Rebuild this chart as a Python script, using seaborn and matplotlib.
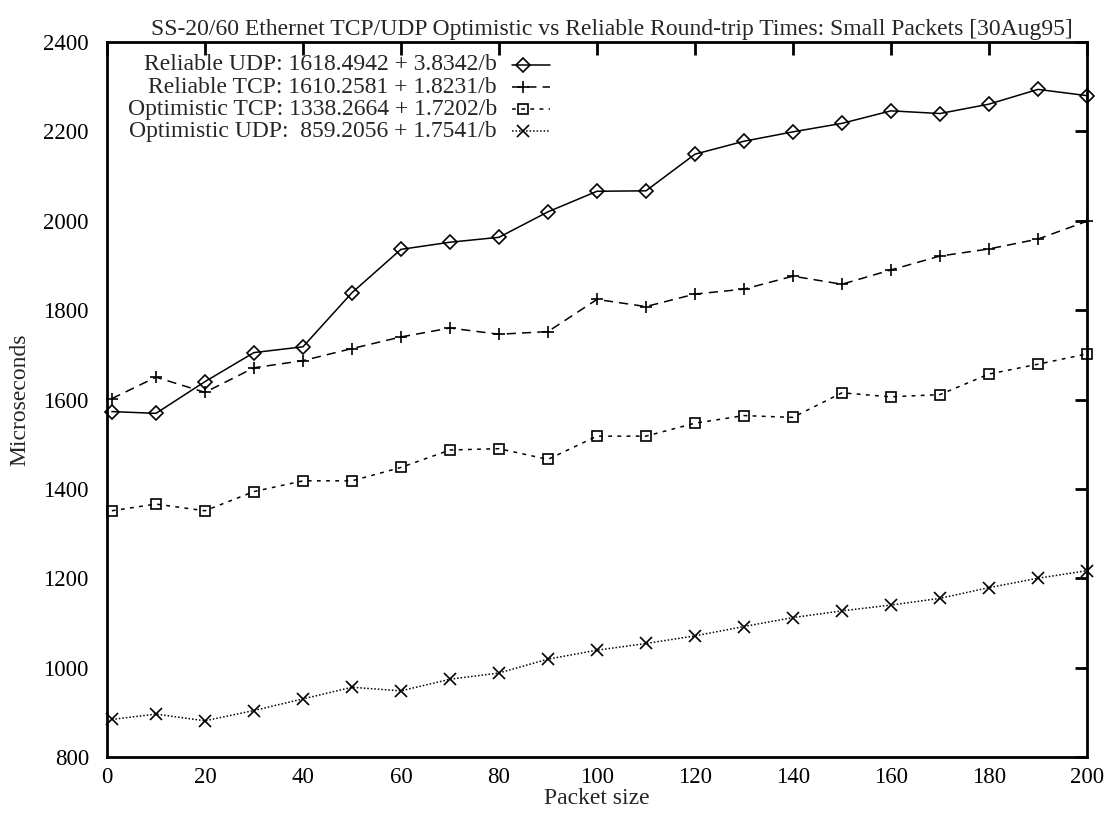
import matplotlib
matplotlib.use("Agg")
import matplotlib.pyplot as plt
import seaborn as sns
import pandas as pd

packet_size = [1, 10, 20, 30, 40, 50, 60, 70, 80, 90, 100, 110, 120, 130, 140, 150, 160, 170, 180, 190, 200]
reliable_udp = [1573, 1569, 1640, 1705, 1718, 1839, 1936, 1952, 1963, 2020, 2066, 2067, 2149, 2178, 2199, 2218, 2246, 2240, 2261, 2294, 2280]
reliable_tcp = [1602, 1650, 1616, 1671, 1687, 1714, 1740, 1760, 1746, 1752, 1824, 1808, 1836, 1847, 1876, 1858, 1890, 1921, 1937, 1959, 1999]
optimistic_tcp = [1351, 1366, 1351, 1394, 1418, 1418, 1448, 1487, 1490, 1466, 1518, 1518, 1547, 1564, 1560, 1615, 1606, 1611, 1657, 1679, 1702]
optimistic_udp = [884, 896, 881, 904, 930, 956, 948, 974, 988, 1019, 1039, 1054, 1071, 1092, 1112, 1127, 1140, 1155, 1179, 1200, 1217]

labels = [
    "Reliable UDP: 1618.4942 + 3.8342/b",
    "Reliable TCP: 1610.2581 + 1.8231/b",
    "Optimistic TCP: 1338.2664 + 1.7202/b",
    "Optimistic UDP:  859.2056 + 1.7541/b",
]
series = [reliable_udp, reliable_tcp, optimistic_tcp, optimistic_udp]
markers = ["D", "+", "s", "x"]
msizes = [7, 9, 7, 8]
styles = ["-", (0, (6, 4)), (0, (2.5, 3.5)), (0, (1, 1.3))]

title = "SS-20/60 Ethernet TCP/UDP Optimistic vs Reliable Round-trip Times: Small Packets [30Aug95]"
xticks = [0, 20, 40, 60, 80, 100, 120, 140, 160, 180, 200]
yticks = [800, 1000, 1200, 1400, 1600, 1800, 2000, 2200, 2400]

FS = 17
TFS = 16.5

sns.set_theme(style="white")
plt.rcParams["font.family"] = ["Liberation Serif", "DejaVu Serif"]
plt.rcParams["font.size"] = FS

fig = plt.figure(figsize=(11.13, 8.13), dpi=100)
ax = fig.add_axes([0.0961, 0.0689, 0.8805, 0.8794])

for lab, vals, m, ms, ls in zip(labels, series, markers, msizes, styles):
    df = pd.DataFrame({"x": packet_size, "y": vals})
    sns.lineplot(data=df, x="x", y="y", ax=ax, color="black", linewidth=1.1,
                 marker=m, markersize=ms, markerfacecolor="none",
                 markeredgecolor="black", markeredgewidth=1.2, linestyle=ls,
                 legend=False, clip_on=False)

ax.set_xlim(0, 200)
ax.set_ylim(800, 2400)
ax.set_xticks(xticks)
ax.set_yticks(yticks)
ax.tick_params(direction="in", length=9, width=2, top=True, right=True,
               labelsize=TFS, colors="black", pad=7)
ax.tick_params(axis="y", pad=13)
for sp in ax.spines.values():
    sp.set_linewidth(2)
    sp.set_color("black")
ax.set_xlabel("Packet size", fontsize=FS, labelpad=0)
ax.set_ylabel("Microseconds", fontsize=FS, labelpad=9)
ax.set_title(title, fontsize=FS, pad=5, x=0.515)

# gnuplot-style key: right-aligned text followed by line sample
text_right = 0.398
line_x0, line_x1 = 0.413, 0.452
row_y = [0.968, 0.937, 0.906, 0.875]
for lab, m, ms, ls, yy in zip(labels, markers, msizes, styles, row_y):
    ax.text(text_right, yy, lab, transform=ax.transAxes, ha="right", va="center", fontsize=FS)
    ax.plot([line_x0, line_x1], [yy, yy], transform=ax.transAxes, color="black",
            linewidth=1.1, linestyle=ls, clip_on=False)
    ax.plot([(line_x0 + line_x1) / 2 - 0.008], [yy], transform=ax.transAxes, color="black",
            marker=m, markersize=ms, markerfacecolor="none", markeredgewidth=1.2, clip_on=False)

fig.savefig("out.png", dpi=100)
